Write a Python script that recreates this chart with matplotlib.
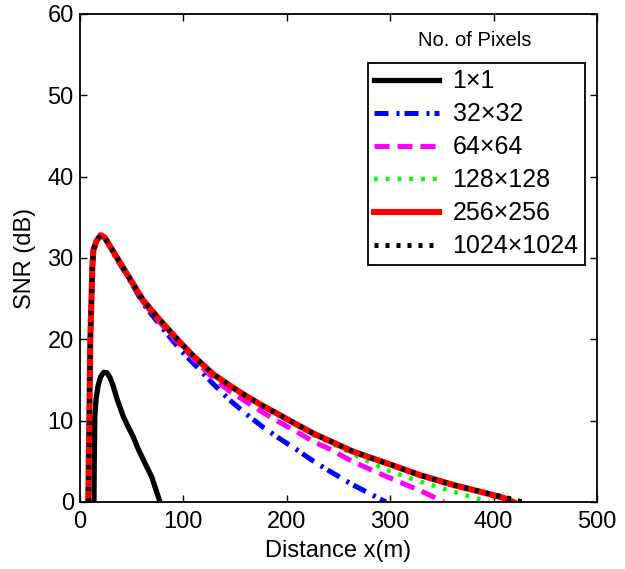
import numpy as np
import matplotlib
matplotlib.use('Agg')
import matplotlib.pyplot as plt

plt.rcParams['font.family'] = ['Liberation Sans', 'DejaVu Sans']

# distance grid (m) for the large arrays, SNR values in dB
x_big = [8, 9, 10, 12, 13, 16, 20, 24, 35, 48, 61, 77, 97, 110, 129, 145,
         161, 177, 193, 210, 226, 240, 264, 297, 329, 361, 393, 410]

snr_256 = [0, 10, 20, 29, 31, 32.1, 32.8, 32.5, 30.2, 27.5, 24.8, 22.4, 19.6, 17.9,
           15.7, 14.3, 13.0, 11.8, 10.7, 9.5, 8.4, 7.6, 6.2, 4.75, 3.3, 2.1, 1.07, 0.5]
snr_1024 = [0, 10, 20, 29, 31, 32.1, 32.8, 32.5, 30.2, 27.5, 24.8, 22.4, 19.6, 17.9,
            15.7, 14.3, 13.0, 11.8, 10.7, 9.5, 8.4, 7.6, 6.2, 4.75, 3.3, 2.1, 1.1, 0.6]
snr_128 = [0, 10, 20, 29, 31, 32.1, 32.8, 32.5, 30.2, 27.5, 24.8, 22.4, 19.6, 17.9,
           15.7, 14.3, 13.0, 11.8, 10.6, 9.4, 8.2, 7.4, 5.9, 3.9, 2.5, 1.27, 0.1, None]
snr_64 = [0, 10, 20, 29, 31, 32.1, 32.8, 32.5, 30.2, 27.4, 24.6, 22.1, 19.3, 17.6,
          15.2, 13.6, 12.3, 11.0, 9.8, 8.6, 7.4, 6.6, 4.95, 3.1, 1.4, None, None, None]
snr_32 = [0, 10, 20, 29, 31, 32.1, 32.8, 32.5, 30.0, 27.3, 24.4, 21.8, 18.7, 17.0,
          14.5, 12.5, 10.8, 9.2, 7.8, 6.4, 5.0, 3.9, 2.1, None, None, None, None, None]

# where each curve reaches 0 dB
x_end = {'256': 419, '1024': 428, '128': 396, '64': 352, '32': 296}

x_1 = [13.5, 13.8, 14.3, 15.5, 17.5, 20, 23, 26, 29, 32, 36, 41.9, 46, 51.5, 56, 61.2, 69.3, 77.4]
snr_1 = [0, 5, 10.5, 12.6, 14.3, 15.4, 15.95, 15.9, 15.3, 14.3, 12.6, 10.5, 9.4, 8.0, 6.6, 5.2, 3.1, 0]

labels = ['1×1', '32×32', '64×64', '128×128', '256×256', '1024×1024']


def curve(values, key):
    xs = [x for x, v in zip(x_big, values) if v is not None]
    ys = [v for v in values if v is not None]
    return xs + [x_end[key]], ys + [0]


fig = plt.figure(figsize=(6.25, 5.69), dpi=100)
ax = fig.add_axes([0.128, 0.1178, 0.827, 0.8577])

ax.plot(x_1, snr_1, color='black', lw=3.8, label=labels[0])
xs, ys = curve(snr_32, '32')
ax.plot(xs, ys, color='#0000ff', lw=3.6, dashes=(2.8, 1.6, 0.6, 1.0), label=labels[1])
xs, ys = curve(snr_64, '64')
ax.plot(xs, ys, color='#ff00ff', lw=3.6, dashes=(3.0, 1.6), label=labels[2])
xs, ys = curve(snr_128, '128')
ax.plot(xs, ys, color='#00ff00', lw=3.2, dashes=(0.85, 1.8), label=labels[3])
xs, ys = curve(snr_256, '256')
ax.plot(xs, ys, color='#ff0000', lw=4.4, label=labels[4])
xs, ys = curve(snr_1024, '1024')
ax.plot(xs, ys, color='black', lw=3.6, dashes=(0.8, 1.4), label=labels[5])

ax.set_xlim(0, 500)
ax.set_ylim(0, 60)
ax.set_xticks([0, 100, 200, 300, 400, 500])
ax.set_yticks([0, 10, 20, 30, 40, 50, 60])
ax.tick_params(direction='in', top=True, right=True, length=5, width=1,
               labelsize=17)
ax.tick_params(axis='x', pad=6.5)
ax.tick_params(axis='y', pad=4.5)
for s in ax.spines.values():
    s.set_linewidth(1.3)

ax.set_xlabel('Distance x(m)', fontsize=17, labelpad=5)
ax.set_ylabel('SNR (dB)', fontsize=17, labelpad=8)

fig.text(475 / 625, 1 - 41 / 569, 'No. of Pixels', fontsize=14.5,
         ha='center', va='center')

leg = ax.legend(loc='upper right', bbox_to_anchor=(585 / 625, 1 - 63 / 569),
                bbox_transform=fig.transFigure, borderaxespad=0, fontsize=18,
                handlelength=2.6, handletextpad=0.55, labelspacing=0.36,
                borderpad=0.25, fancybox=False, framealpha=1, edgecolor='black')
leg.get_frame().set_linewidth(1.3)

fig.savefig('out.png', dpi=100)
